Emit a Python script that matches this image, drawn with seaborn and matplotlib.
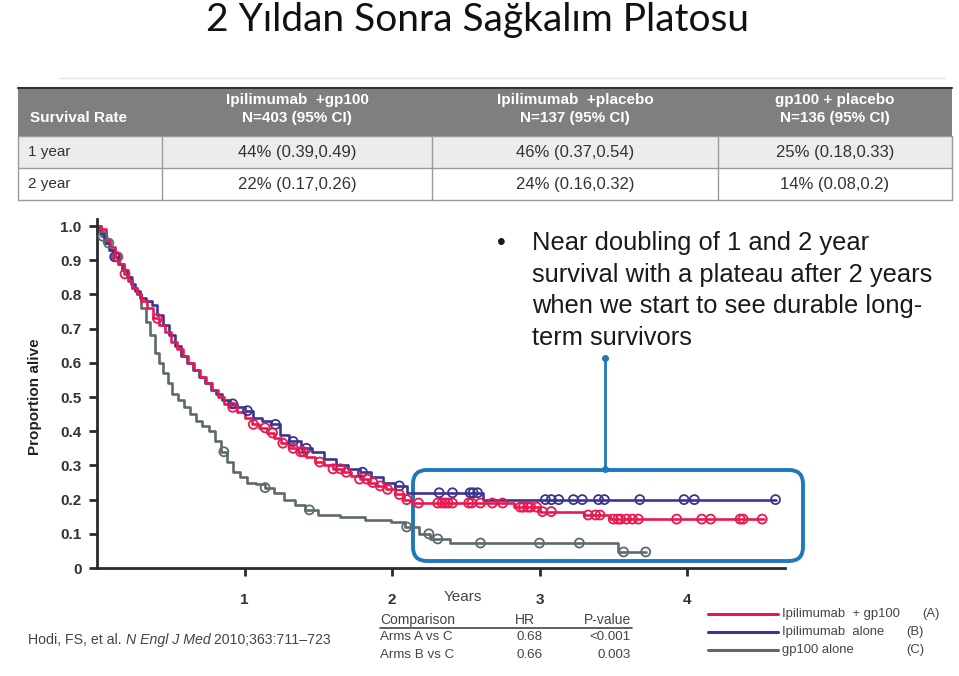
import numpy as np
import pandas as pd
import matplotlib
matplotlib.use("Agg")
import matplotlib.pyplot as plt
import seaborn as sns
from matplotlib.patches import FancyBboxPatch, Rectangle

# ---------------- data ----------------
title = "2 Yıldan Sonra Sağkalım Platosu"

table_header = ["Survival Rate",
                "Ipilimumab  +gp100\nN=403 (95% CI)",
                "Ipilimumab  +placebo\nN=137 (95% CI)",
                "gp100 + placebo\nN=136 (95% CI)"]
table_row1 = ["1 year", "44% (0.39,0.49)", "46% (0.37,0.54)", "25% (0.18,0.33)"]
table_row2 = ["2 year", "22% (0.17,0.26)", "24% (0.16,0.32)", "14% (0.08,0.2)"]

# Arm A: Ipilimumab + gp100
a_time = [0, 0.03, 0.06, 0.09, 0.12, 0.15, 0.18, 0.21, 0.24, 0.27, 0.30, 0.34, 0.38, 0.42,
          0.46, 0.50, 0.54, 0.58, 0.62, 0.66, 0.70, 0.74, 0.78, 0.82, 0.86, 0.90, 0.95, 1.00,
          1.05, 1.10, 1.15, 1.20, 1.25, 1.30, 1.36, 1.42, 1.48, 1.54, 1.60, 1.66, 1.72, 1.78,
          1.84, 1.90, 1.96, 2.02, 2.08, 2.14, 2.83, 3.00, 3.30, 3.48]
a_surv = [1.0, 0.99, 0.96, 0.94, 0.91, 0.89, 0.86, 0.84, 0.82, 0.80, 0.78, 0.76, 0.73, 0.71,
          0.69, 0.66, 0.64, 0.62, 0.60, 0.58, 0.56, 0.54, 0.52, 0.50, 0.48, 0.47, 0.455, 0.44,
          0.42, 0.41, 0.395, 0.38, 0.365, 0.35, 0.34, 0.325, 0.31, 0.30, 0.29, 0.28, 0.27, 0.26,
          0.25, 0.24, 0.23, 0.215, 0.20, 0.19, 0.178, 0.165, 0.155, 0.143]
a_end = 4.52
a_censor = [0.14, 0.19, 0.41, 0.92, 1.06, 1.14, 1.19, 1.26, 1.33, 1.38, 1.40, 1.51, 1.60,
            1.65, 1.69, 1.78, 1.83, 1.87, 1.92, 1.97, 2.05, 2.10, 2.18, 2.31, 2.34, 2.36,
            2.38, 2.41, 2.52, 2.54, 2.60, 2.68, 2.75, 2.87, 2.89, 2.92, 2.94, 2.98, 3.02,
            3.08, 3.33, 3.38, 3.41, 3.50, 3.53, 3.55, 3.59, 3.63, 3.67, 3.93, 4.10, 4.16,
            4.36, 4.38, 4.51]

# Arm B: Ipilimumab alone
b_time = [0, 0.02, 0.05, 0.08, 0.11, 0.14, 0.17, 0.20, 0.23, 0.26, 0.29, 0.33, 0.37, 0.41,
          0.45, 0.49, 0.53, 0.57, 0.61, 0.65, 0.69, 0.73, 0.77, 0.81, 0.85, 0.90, 0.95, 1.00,
          1.06, 1.12, 1.18, 1.24, 1.30, 1.38, 1.46, 1.54, 1.62, 1.70, 1.78, 1.86, 1.94, 2.02,
          2.10, 2.62]
b_surv = [1.0, 0.98, 0.95, 0.93, 0.91, 0.89, 0.87, 0.85, 0.83, 0.81, 0.79, 0.78, 0.77, 0.74,
          0.71, 0.68, 0.65, 0.62, 0.60, 0.58, 0.56, 0.54, 0.52, 0.51, 0.49, 0.48, 0.47, 0.46,
          0.44, 0.43, 0.42, 0.39, 0.37, 0.35, 0.34, 0.32, 0.30, 0.29, 0.28, 0.265, 0.25, 0.24,
          0.22, 0.20]
b_end = 4.60
b_censor = [0.12, 0.92, 1.02, 1.21, 1.33, 1.42, 1.80, 2.05, 2.32, 2.41, 2.53, 2.55, 2.58,
            3.04, 3.08, 3.13, 3.23, 3.29, 3.40, 3.44, 3.68, 3.98, 4.05, 4.60]

# Arm C: gp100 alone
c_time = [0, 0.03, 0.06, 0.09, 0.12, 0.15, 0.18, 0.21, 0.24, 0.27, 0.30, 0.33, 0.36, 0.39,
          0.42, 0.45, 0.48, 0.51, 0.55, 0.59, 0.63, 0.67, 0.71, 0.76, 0.80, 0.84, 0.88, 0.92,
          0.97, 1.02, 1.08, 1.14, 1.20, 1.27, 1.34, 1.41, 1.50, 1.65, 1.82, 1.99, 2.09, 2.18,
          2.26, 2.39, 3.53]
c_surv = [1.0, 0.97, 0.95, 0.93, 0.91, 0.89, 0.87, 0.85, 0.82, 0.80, 0.76, 0.72, 0.68, 0.63,
          0.60, 0.57, 0.54, 0.51, 0.49, 0.47, 0.45, 0.43, 0.415, 0.40, 0.37, 0.34, 0.31, 0.28,
          0.265, 0.25, 0.245, 0.235, 0.22, 0.20, 0.185, 0.17, 0.155, 0.15, 0.14, 0.135, 0.12,
          0.10, 0.085, 0.073, 0.047]
c_end = 3.72
c_censor = [0.04, 0.08, 0.13, 0.86, 1.14, 1.44, 2.10, 2.25, 2.31, 2.60, 3.00, 3.27, 3.57, 3.72]

series_labels = ["Ipilimumab  + gp100", "Ipilimumab  alone", "gp100 alone"]
series_tags = ["(A)", "(B)", "(C)"]
series_colors = ["#e8194f", "#3b3592", "#5d6a6c"]

yticks = [0, 0.1, 0.2, 0.3, 0.4, 0.5, 0.6, 0.7, 0.8, 0.9, 1.0]
ytick_labels = ["0", "0.1", "0.2", "0.3", "0.4", "0.5", "0.6", "0.7", "0.8", "0.9", "1.0"]
xticks = [1, 2, 3, 4]
xtick_labels = ["1", "2", "3", "4"]
xlabel = "Years"
ylabel = "Proportion alive"

bullet_lines = ["Near doubling of 1 and 2 year",
                "survival with a plateau after 2 years",
                "when we start to see durable long-",
                "term survivors"]

comp_header = ["Comparison", "HR", "P-value"]
comp_row1 = ["Arms A vs C", "0.68", "<0.001"]
comp_row2 = ["Arms B vs C", "0.66", "0.003"]

cite_parts = ["Hodi, FS, et al. ", "N Engl J Med", " 2010;363:711\u2013723"]
cite_styles = ["normal", "italic", "normal"]

# ---------------- figure ----------------
sns.set_theme(style="white")
plt.rcParams["font.family"] = ["Liberation Sans", "DejaVu Sans"]

W, H = 959, 676
fig = plt.figure(figsize=(W / 100, H / 100), dpi=100)

# overlay axes in pixel coordinates
ov = fig.add_axes([0, 0, 1, 1])
ov.set_xlim(0, W)
ov.set_ylim(H, 0)
ov.axis("off")

# title
ov.text(477, 20, title, ha="center", va="center", fontsize=28, family=["Lato", "DejaVu Sans"],
        color="#111111")
ov.plot([60, 945], [78, 78], color="#e2e2e2", lw=1)

# table
col_edges = [18, 162, 432, 718, 952]
row_edges = [88, 136, 168, 200]
ov.add_patch(Rectangle((18, 88), 934, 48, facecolor="#7f7f7f", edgecolor="none"))
ov.add_patch(Rectangle((18, 136), 934, 32, facecolor="#ececec", edgecolor="none"))
ov.add_patch(Rectangle((18, 168), 934, 32, facecolor="#ffffff", edgecolor="none"))
ov.plot([18, 952], [88, 88], color="#333333", lw=1.5)
for yy in row_edges[1:]:
    ov.plot([18, 952], [yy, yy], color="#9a9a9a", lw=1)
for xx in col_edges:
    ov.plot([xx, xx], [136, 200], color="#9a9a9a", lw=1)
ov.text(30, 118, table_header[0], ha="left", va="center", fontsize=11, weight="bold", color="white")
centers = [297, 575, 835]
for cx, hdr in zip(centers, table_header[1:]):
    l1, l2 = hdr.split("\n")
    ov.text(cx, 100, l1, ha="center", va="center", fontsize=11, weight="bold", color="white")
    ov.text(cx, 118, l2, ha="center", va="center", fontsize=11, weight="bold", color="white")
for ry, row in zip([152, 184], [table_row1, table_row2]):
    ov.text(28, ry, row[0], ha="left", va="center", fontsize=11, color="#333333")
    for cx, val in zip(centers, row[1:]):
        ov.text(cx, ry, val, ha="center", va="center", fontsize=12, color="#333333")

# main KM axes
x0, x1 = 97, 785
y0px, y1px = 568, 219.2
ax = fig.add_axes([x0 / W, 1 - y0px / H, (x1 - x0) / W, (y0px - y1px) / H])
ax.patch.set_alpha(0)
ax.set_xlim(0, (x1 - x0) / 147.5)
ax.set_ylim(0, 1.02)

arms = [(c_time, c_surv, c_end, c_censor, series_colors[2]),
        (b_time, b_surv, b_end, b_censor, series_colors[1]),
        (a_time, a_surv, a_end, a_censor, series_colors[0])]
for tt, ss, tend, cens, col in arms:
    df = pd.DataFrame({"t": list(tt) + [tend], "s": list(ss) + [ss[-1]]})
    sns.lineplot(data=df, x="t", y="s", drawstyle="steps-post", estimator=None, sort=False,
                 color=col, lw=1.9, ax=ax, clip_on=False)
    tt_arr = np.asarray(tt)
    idx = np.searchsorted(tt_arr, np.asarray(cens), side="right") - 1
    cdf = pd.DataFrame({"t": cens, "s": np.asarray(ss)[idx]})
    sns.scatterplot(data=cdf, x="t", y="s", marker="o", s=42, facecolors="none",
                    edgecolor=col, linewidth=1.3, ax=ax, clip_on=False, zorder=3)

sns.despine(ax=ax)
for sp in ["left", "bottom"]:
    ax.spines[sp].set_color("#2a2a2a")
    ax.spines[sp].set_linewidth(2)
ax.set_yticks(yticks)
ax.set_yticklabels(ytick_labels)
ax.set_xticks(xticks)
ax.set_xticklabels(xtick_labels)
ax.tick_params(axis="y", direction="out", length=6, width=2, color="#2a2a2a", pad=5,
               labelsize=11, labelcolor="#333333", left=True)
ax.tick_params(axis="x", direction="out", length=6, width=2, color="#2a2a2a", pad=12,
               labelsize=11, labelcolor="#333333", bottom=True)
for lab in ax.get_xticklabels() + ax.get_yticklabels():
    lab.set_fontweight("bold")
ax.set_xlabel("")
ax.set_ylabel(ylabel, fontsize=11, weight="bold", color="#222222")
ax.yaxis.set_label_coords(-0.08, 0.49)

ov.text(463, 597, xlabel, ha="center", va="center", fontsize=11, color="#444444")

# callout
ov.add_patch(FancyBboxPatch((413, 470), 390, 91, boxstyle="round,pad=0,rounding_size=14",
                            facecolor="none", edgecolor="#1f78b9", lw=2.8, zorder=5))
ov.plot([605, 605], [358, 469], color="#1f78b9", lw=2)
ov.plot([605, 605], [358, 469], "o", color="#1f78b9", ms=4)

# bullet text
ov.text(497, 243, "\u2022", ha="left", va="center", fontsize=18, color="#1a1a1a")
for i, line in enumerate(bullet_lines):
    ov.text(532, 243 + i * 31.7, line, ha="left", va="center", fontsize=18.4, color="#1a1a1a")

# comparison table
ov.text(380, 620, comp_header[0], ha="left", va="center", fontsize=10, color="#444444")
ov.text(525, 620, comp_header[1], ha="center", va="center", fontsize=10, color="#444444")
ov.text(631, 620, comp_header[2], ha="right", va="center", fontsize=10, color="#444444")
ov.plot([380, 632], [628, 628], color="#444444", lw=1.2)
for ry, row in zip([637, 655], [comp_row1, comp_row2]):
    ov.text(380, ry, row[0], ha="left", va="center", fontsize=9.6, color="#444444")
    ov.text(530, ry, row[1], ha="center", va="center", fontsize=9.6, color="#444444")
    ov.text(631, ry, row[2], ha="right", va="center", fontsize=9.6, color="#444444")

# legend
for i, (lab, tag, col) in enumerate(zip(series_labels, series_tags, series_colors)):
    yy = 614 + i * 18
    ov.plot([708, 778], [yy, yy], color=col, lw=2.2)
    ov.text(782, yy, lab, ha="left", va="center", fontsize=9.4, color="#444444")
    ov.text(940 if i == 0 else 924, yy, tag, ha="right", va="center", fontsize=9.4, color="#444444")

# citation, chained pieces
fig.canvas.draw()
renderer = fig.canvas.get_renderer()
cx = 28
for part, st in zip(cite_parts, cite_styles):
    t = ov.text(cx, 640, part, ha="left", va="center", fontsize=10.2, color="#444444", style=st)
    bb = t.get_window_extent(renderer=renderer)
    cx += bb.width

fig.savefig("out.png", dpi=100)
